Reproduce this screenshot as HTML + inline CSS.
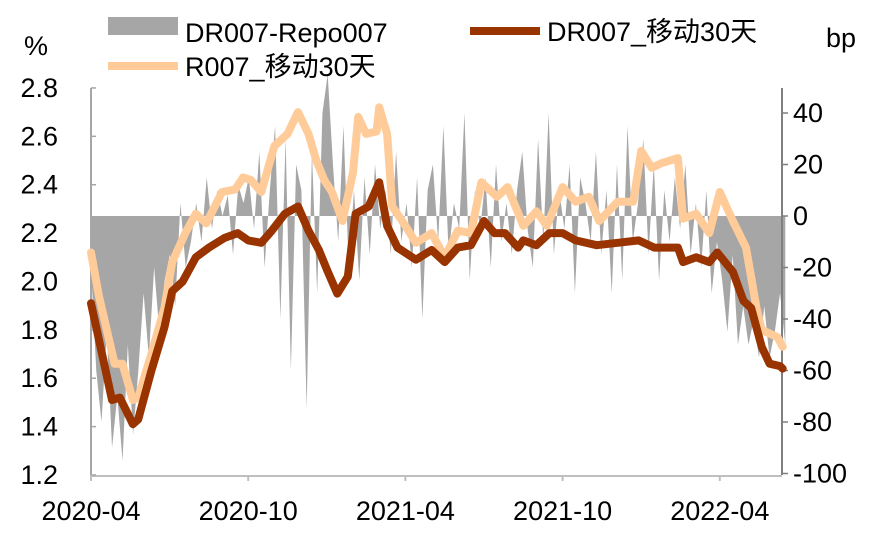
<!DOCTYPE html>
<html><head><meta charset="utf-8"><style>
body{margin:0;background:#fff}
svg text{font-family:"Liberation Sans","Noto Sans CJK SC",sans-serif;font-size:27px;fill:#000}
</style></head><body>
<svg id="chart" width="877" height="542" xmlns="http://www.w3.org/2000/svg">
<g id="bars"></g>
<g id="axes"></g>
<g id="lines"></g>
<g>
<rect x="108" y="17" width="70" height="18" fill="#a6a6a6"/>
<text x="185" y="42">DR007-Repo007</text>
<line x1="470" y1="31" x2="540" y2="31" stroke="#993300" stroke-width="8"/>
<text x="547" y="41">DR007_移动30天</text>
<line x1="108" y1="66" x2="178" y2="66" stroke="#ffcc99" stroke-width="8"/>
<text x="185" y="76">R007_移动30天</text>
</g>
<text x="24" y="55">%</text>
<text x="826" y="47">bp</text>
</svg>
<script>
const leftTicks=[1.2,1.4,1.6,1.8,2.0,2.2,2.4,2.6,2.8];
const rightTicks=[-100,-80,-60,-40,-20,0,20,40];
const xTickLabels=["2020-04","2020-10","2021-04","2021-10","2022-04"];
const xTickMonths=[0,6,12,18,24];
const drMonths=[0,0.3,0.8,1.1,1.6,1.8,2.3,2.8,3.1,3.5,4.0,4.5,5.1,5.6,6.0,6.5,6.9,7.4,7.9,8.3,8.7,9.0,9.4,9.8,10.1,10.6,11.0,11.3,11.7,12.4,13.0,13.5,14.0,14.5,15.0,15.4,15.8,16.3,16.5,17.0,17.5,17.8,18.0,18.5,19.3,20.1,20.9,21.5,22.4,22.6,23.1,23.6,23.9,24.5,24.9,25.2,25.6,25.9,26.3,26.4];
const drValues=[1.91,1.76,1.51,1.52,1.41,1.43,1.63,1.81,1.96,2.0,2.10,2.14,2.18,2.20,2.17,2.16,2.21,2.28,2.31,2.21,2.13,2.05,1.95,2.02,2.28,2.31,2.41,2.23,2.14,2.09,2.13,2.08,2.14,2.15,2.25,2.20,2.20,2.14,2.17,2.15,2.20,2.20,2.20,2.17,2.15,2.16,2.17,2.14,2.14,2.08,2.10,2.08,2.12,2.04,1.92,1.89,1.73,1.66,1.65,1.64];
const rMonths=[0,0.3,0.9,1.2,1.6,1.8,2.3,2.8,3.1,3.6,4.0,4.4,5.0,5.5,5.8,6.1,6.5,7.0,7.5,7.9,8.3,8.6,8.9,9.2,9.6,10.0,10.2,10.5,10.9,11.0,11.3,11.5,12.0,12.4,13.0,13.5,14.0,14.5,14.9,15.5,15.9,16.5,17.0,17.4,18.0,18.5,19.0,19.4,20.1,20.7,21.0,21.4,21.8,22.4,22.6,23.1,23.6,24.0,24.5,25.0,25.4,25.6,26.2,26.4];
const rValues=[2.12,1.94,1.66,1.66,1.51,1.52,1.70,1.89,2.08,2.20,2.28,2.24,2.37,2.38,2.43,2.42,2.37,2.56,2.61,2.70,2.61,2.50,2.42,2.37,2.25,2.45,2.68,2.61,2.62,2.72,2.61,2.31,2.23,2.16,2.20,2.10,2.21,2.20,2.41,2.35,2.39,2.23,2.29,2.23,2.39,2.33,2.35,2.25,2.33,2.33,2.54,2.47,2.49,2.51,2.26,2.28,2.20,2.37,2.25,2.14,1.89,1.80,1.77,1.73];
const spreadValues=[-20,-60,-80,-45,-90,-70,-95,-50,-85,-60,-30,-55,-20,-45,-25,-15,-35,5,-20,-10,5,-10,15,-5,10,0,8,-15,12,5,15,-5,25,-20,10,35,-40,30,-60,20,10,-75,25,-30,40,55,20,-10,35,-20,10,-25,15,-15,20,-5,10,-15,25,-10,5,-20,15,-40,10,20,-10,35,-15,5,-5,40,-25,10,-5,15,-20,20,-10,5,-15,10,25,-5,-20,30,-10,40,-15,10,-5,20,-30,15,5,-10,25,-15,10,-30,20,-25,35,-10,5,30,-15,20,-25,10,-10,15,-5,20,-15,5,-20,10,-30,-10,-25,-45,-15,-50,-35,-50,-40,-55,-35,-55,-45,-30,-50];
const X0=91,PX=26.2,XR=782,YB=475;
const xS=m=>X0+m*PX;
const yL=v=>475-(v-1.2)*241.9;
const yR=v=>216-v*2.575;
const NS="http://www.w3.org/2000/svg";
function mk(tag,attrs,parent){const e=document.createElementNS(NS,tag);for(const k in attrs)e.setAttribute(k,attrs[k]);parent.appendChild(e);return e;}
const bars=document.getElementById('bars'),axes=document.getElementById('axes'),lines=document.getElementById('lines');
const spanM=26.5;let pts=[[xS(0),yR(0)]];
spreadValues.forEach((v,i)=>{pts.push([xS(i*spanM/(spreadValues.length-1)),yR(v)]);});
pts.push([xS(spanM),yR(0)]);
const area=mk('polygon',{points:pts.map(p=>p.join(',')).join(' '),fill:'#a6a6a6'},bars);


const la=mk('line',{x1:X0,y1:88,x2:X0,y2:YB,stroke:'#a6a6a6','stroke-width':2},axes);


const ra=mk('line',{x1:XR,y1:88,x2:XR,y2:YB,stroke:'#7f7f7f','stroke-width':2},axes);


const ba=mk('line',{x1:X0,y1:YB+1,x2:XR,y2:YB+1,stroke:'#bfbfbf','stroke-width':2},axes);


leftTicks.forEach(v=>{const y=yL(v);
 mk('line',{x1:X0,y1:y,x2:X0+5,y2:y,stroke:'#a6a6a6','stroke-width':1.5},axes);
 const t=mk('text',{x:58,y:y+9,'text-anchor':'end'},axes);t.textContent=v.toFixed(1);
 
 });
rightTicks.forEach(v=>{const y=yR(v);
 mk('line',{x1:XR,y1:y,x2:XR+6,y2:y,stroke:'#7f7f7f','stroke-width':1.5},axes);
 const t=mk('text',{x:793,y:y+9},axes);t.textContent=v;
 
 });
xTickMonths.forEach((m,i)=>{const x=xS(m);
 mk('line',{x1:x,y1:YB,x2:x,y2:YB+6,stroke:'#bfbfbf','stroke-width':2},axes);
 const t=mk('text',{x:x,y:520,'text-anchor':'middle'},axes);t.textContent=xTickLabels[i];
 
 });
function line(ms,vs,color,name){const d=ms.map((m,i)=>(i?'L':'M')+xS(m).toFixed(1)+','+yL(vs[i]).toFixed(1)).join('');
 const p=mk('path',{d:d,fill:'none',stroke:color,'stroke-width':8,'stroke-linejoin':'round','stroke-linecap':'round'},lines);
 
 }
line(rMonths,rValues,'#ffcc99','r007-line');
line(drMonths,drValues,'#993300','dr007-line');
</script>
</body></html>
